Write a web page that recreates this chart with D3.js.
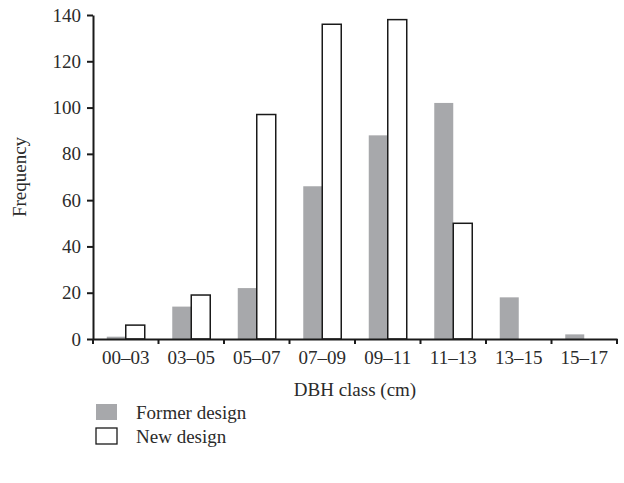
<!DOCTYPE html>
<html>
<head>
<meta charset="utf-8">
<script src="https://cdn.jsdelivr.net/npm/d3@7"></script>
<style>
  body { margin: 0; background: #fff; }
  svg text { font-family: "Liberation Serif", "DejaVu Serif", serif; fill: #2b2b2b; }
</style>
</head>
<body>
<svg id="chart"></svg>
<script>
// data
const classes = ['00–03', '03–05', '05–07', '07–09', '09–11', '11–13', '13–15', '15–17'];
const formerDesign = [1, 14, 22, 66, 88, 102, 18, 2];
const newDesign = [6, 19, 97, 136, 138, 50, 0, 0];
const yTicks = [0, 20, 40, 60, 80, 100, 120, 140];
const seriesNames = ['Former design', 'New design'];

const width = 624, height = 483;
const margin = { top: 15, right: 7, bottom: 144, left: 93 };
const plotW = width - margin.left - margin.right;
const plotH = height - margin.top - margin.bottom;
const fontSize = '19px';

const svg = d3.select('#chart')
    .attr('width', width)
    .attr('height', height);

const g = svg.append('g')
    .attr('transform', `translate(${margin.left},${margin.top})`);

// scales
const x = d3.scaleBand()
    .domain(classes)
    .range([0, plotW]);

const xInner = d3.scaleBand()
    .domain(seriesNames)
    .range([0, x.bandwidth() * 0.58])
    .paddingInner(0);

const y = d3.scaleLinear()
    .domain([0, 140])
    .range([plotH, 0]);

const offset = (x.bandwidth() - xInner.range()[1]) / 2;

// former design bars (grey)
g.selectAll('.bar-former')
    .data(classes)
    .enter().append('rect')
    .attr('class', 'bar-former')
    .attr('x', d => x(d) + offset + xInner('Former design'))
    .attr('y', (d, i) => y(formerDesign[i]))
    .attr('width', xInner.bandwidth())
    .attr('height', (d, i) => plotH - y(formerDesign[i]))
    .attr('fill', '#a7a8ab');

// new design bars (white, outlined)
g.selectAll('.bar-new')
    .data(classes.filter((d, i) => newDesign[i] > 0))
    .enter().append('rect')
    .attr('class', 'bar-new')
    .attr('x', d => x(d) + offset + xInner('New design'))
    .attr('y', d => y(newDesign[classes.indexOf(d)]))
    .attr('width', xInner.bandwidth())
    .attr('height', d => plotH - y(newDesign[classes.indexOf(d)]))
    .attr('fill', '#fff')
    .attr('stroke', '#1a1a1a')
    .attr('stroke-width', 1.5);

// y axis
const yAxis = g.append('g')
    .call(d3.axisLeft(y).tickValues(yTicks).tickSize(6).tickPadding(6).tickSizeOuter(0));

// x axis: ticks on band edges
const xAxis = g.append('g')
    .attr('transform', `translate(0,${plotH})`)
    .call(d3.axisBottom(x).tickSize(0).tickPadding(12).tickSizeOuter(0));

xAxis.selectAll('.edge')
    .data(d3.range(classes.length + 1))
    .enter().append('line')
    .attr('class', 'edge')
    .attr('x1', i => i * x.step())
    .attr('x2', i => i * x.step())
    .attr('y1', 0)
    .attr('y2', 5)
    .attr('stroke', '#1a1a1a')
    .attr('stroke-width', 2);

[yAxis, xAxis].forEach(a => {
    a.select('.domain').attr('stroke', '#1a1a1a').attr('stroke-width', 2);
    a.selectAll('.tick line').attr('stroke', '#1a1a1a').attr('stroke-width', 2);
    a.selectAll('.tick text').style('font-size', fontSize).attr('fill', '#2b2b2b');
});

// axis titles
g.append('text')
    .attr('x', plotW / 2)
    .attr('y', plotH + 57)
    .style('text-anchor', 'middle')
    .style('font-size', fontSize)
    .text('DBH class (cm)');

g.append('text')
    .attr('transform', `translate(${-67},${plotH / 2}) rotate(-90)`)
    .style('text-anchor', 'middle')
    .style('font-size', fontSize)
    .text('Frequency');

// legend
const legend = svg.append('g')
    .attr('transform', 'translate(96,404)');

const legendRows = legend.selectAll('g')
    .data(seriesNames)
    .enter().append('g')
    .attr('transform', (d, i) => `translate(0,${i * 24})`);

legendRows.append('rect')
    .attr('width', 21)
    .attr('height', 16)
    .attr('fill', (d, i) => i === 0 ? '#a7a8ab' : '#fff')
    .attr('stroke', (d, i) => i === 0 ? 'none' : '#1a1a1a')
    .attr('stroke-width', 1.3);

legendRows.append('text')
    .attr('x', 40)
    .attr('y', 15)
    .style('font-size', fontSize)
    .text(d => d);
</script>
</body>
</html>
